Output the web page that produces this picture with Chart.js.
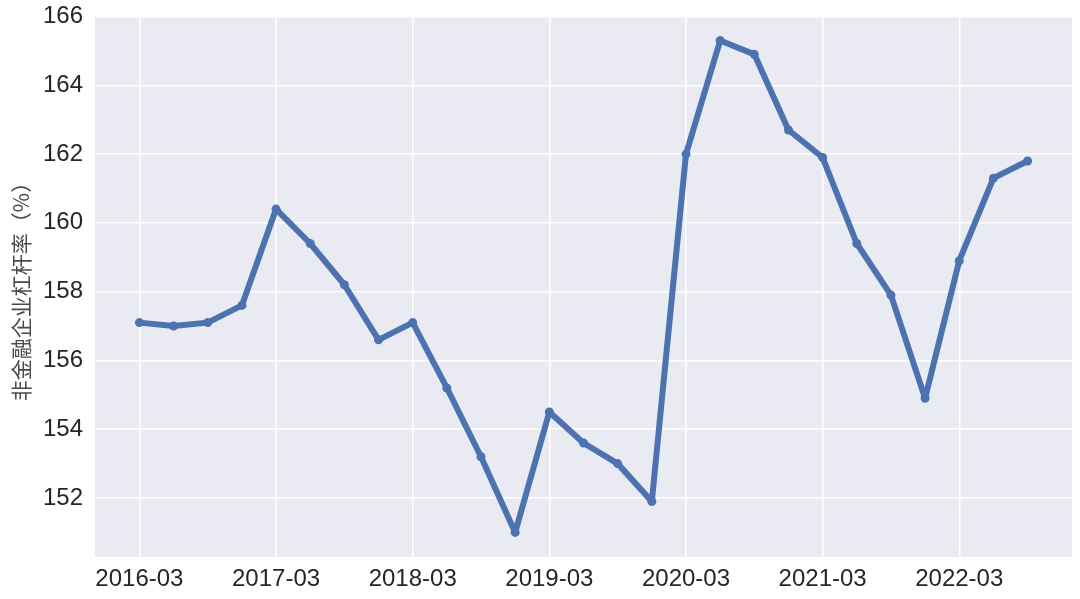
<!DOCTYPE html>
<html>
<head>
    <title>非金融企业杠杆率</title>
    <style>
        html, body {
            margin: 0;
            padding: 0;
            background: #ffffff;
        }

        .chart-container {
            position: relative;
            width: 1080px;
            height: 599px;
        }
    </style>
    <script src="https://cdn.jsdelivr.net/npm/chart.js"></script>
</head>
<body>
    <div class="chart-container">
        <canvas id="leverageChart"></canvas>
    </div>

    <script>
        // Quarterly non-financial corporate leverage ratio (%)
        const quarters = [
            '2016-03', '2016-06', '2016-09', '2016-12',
            '2017-03', '2017-06', '2017-09', '2017-12',
            '2018-03', '2018-06', '2018-09', '2018-12',
            '2019-03', '2019-06', '2019-09', '2019-12',
            '2020-03', '2020-06', '2020-09', '2020-12',
            '2021-03', '2021-06', '2021-09', '2021-12',
            '2022-03', '2022-06', '2022-09'
        ];
        const leverage = [
            157.1, 157.0, 157.1, 157.6,
            160.4, 159.4, 158.2, 156.6,
            157.1, 155.2, 153.2, 151.0,
            154.5, 153.6, 153.0, 151.9,
            162.0, 165.3, 164.9, 162.7,
            161.9, 159.4, 157.9, 154.9,
            158.9, 161.3, 161.8
        ];
        const xTickIndexes = [0, 4, 8, 12, 16, 20, 24];
        const yTicks = [152, 154, 156, 158, 160, 162, 164, 166];

        // Plot background like seaborn darkgrid
        const plotBackground = {
            id: 'plotBackground',
            beforeDraw(chart) {
                const { ctx, chartArea } = chart;
                ctx.save();
                ctx.fillStyle = '#EAEAF2';
                ctx.fillRect(chartArea.left, chartArea.top,
                    chartArea.right - chartArea.left, chartArea.bottom - chartArea.top);
                ctx.restore();
            }
        };

        const points = leverage.map((v, i) => ({ x: i, y: v }));

        const ctx = document.getElementById('leverageChart').getContext('2d');
        new Chart(ctx, {
            type: 'line',
            data: {
                datasets: [{
                    label: '非金融企业杠杆率',
                    data: points,
                    borderColor: '#4C72B0',
                    backgroundColor: '#4C72B0',
                    borderWidth: 6,
                    borderJoinStyle: 'round',
                    borderCapStyle: 'round',
                    pointRadius: 4.5,
                    pointBorderWidth: 0,
                    tension: 0
                }]
            },
            options: {
                responsive: true,
                maintainAspectRatio: false,
                animation: false,
                layout: {
                    padding: { left: 8, top: 16, right: 8, bottom: 0 }
                },
                plugins: {
                    legend: { display: false },
                    tooltip: { enabled: false }
                },
                scales: {
                    x: {
                        type: 'linear',
                        min: -1.3,
                        max: 27.3,
                        border: { display: false },
                        grid: {
                            color: '#ffffff',
                            lineWidth: 1.5,
                            drawTicks: false
                        },
                        ticks: {
                            padding: 8,
                            color: '#262626',
                            font: { family: 'Liberation Sans', size: 24 },
                            maxRotation: 0,
                            callback: (value) => quarters[value]
                        },
                        afterBuildTicks: (scale) => {
                            scale.ticks = xTickIndexes.map(v => ({ value: v }));
                        },
                        afterFit: (scale) => {
                            scale.height = 42;
                            scale.paddingLeft = 0;
                            scale.paddingRight = 0;
                        }
                    },
                    y: {
                        min: 150.285,
                        max: 166.015,
                        border: { display: false },
                        grid: {
                            color: '#ffffff',
                            lineWidth: 1.5,
                            drawTicks: false
                        },
                        ticks: {
                            padding: 12,
                            color: '#262626',
                            font: { family: 'Liberation Sans', size: 24 }
                        },
                        afterBuildTicks: (scale) => {
                            scale.ticks = yTicks.map(v => ({ value: v }));
                        },
                        afterFit: (scale) => {
                            scale.width = 87;
                            scale.paddingTop = 0;
                            scale.paddingBottom = 0;
                        },
                        title: {
                            display: true,
                            text: '非金融企业杠杆率（%）',
                            color: '#4a4a4a',
                            padding: { top: 0, bottom: 0 },
                            font: { family: 'Noto Sans CJK SC', size: 21 }
                        }
                    }
                }
            },
            plugins: [plotBackground]
        });
    </script>
</body>
</html>
